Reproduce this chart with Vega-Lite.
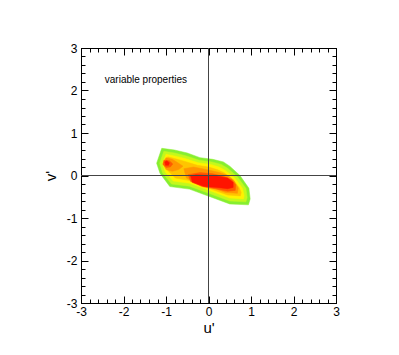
{
  "$schema": "https://vega.github.io/schema/vega-lite/v6.json",
  "width": 255,
  "height": 255,
  "autosize": {"type": "none"},
  "padding": {"left": 81, "top": 48, "right": 63, "bottom": 52},
  "background": "white",
  "config": {
    "view": {"stroke": "black", "strokeWidth": 1},
    "font": "Liberation Sans",
    "axis": {
      "grid": false,
      "domainColor": "black",
      "tickColor": "black",
      "labelColor": "black",
      "labelFont": "Liberation Sans",
      "labelFontSize": 12,
      "titleFont": "Liberation Sans",
      "titleFontSize": 15,
      "titleFontWeight": "normal",
      "titleColor": "black"
    }
  },
  "datasets": {
    "c": [
      {"l":1,"p":"1a","o":1,"u":-1.10,"v":0.64},{"l":1,"p":"1a","o":2,"u":-1.22,"v":0.29},{"l":1,"p":"1a","o":3,"u":-1.14,"v":0.05},{"l":1,"p":"1a","o":4,"u":-0.91,"v":-0.26},{"l":1,"p":"1a","o":5,"u":-0.45,"v":-0.32},{"l":1,"p":"1a","o":6,"u":0.04,"v":-0.5},{"l":1,"p":"1a","o":7,"u":0.5,"v":-0.67},{"l":1,"p":"1a","o":8,"u":0.94,"v":-0.69},{"l":1,"p":"1a","o":9,"u":0.98,"v":-0.55},{"l":1,"p":"1a","o":10,"u":0.95,"v":-0.3},{"l":1,"p":"1a","o":11,"u":0.74,"v":0.0},{"l":1,"p":"1a","o":12,"u":0.5,"v":0.22},{"l":1,"p":"1a","o":13,"u":0.35,"v":0.32},{"l":1,"p":"1a","o":14,"u":0.1,"v":0.38},{"l":1,"p":"1a","o":15,"u":-0.2,"v":0.42},{"l":1,"p":"1a","o":16,"u":-0.5,"v":0.53},{"l":1,"p":"1a","o":17,"u":-0.8,"v":0.6},
      {"l":2,"p":"2a","o":1,"u":-1.05,"v":0.57},{"l":2,"p":"2a","o":2,"u":-1.15,"v":0.29},{"l":2,"p":"2a","o":3,"u":-1.08,"v":0.06},{"l":2,"p":"2a","o":4,"u":-0.87,"v":-0.2},{"l":2,"p":"2a","o":5,"u":-0.45,"v":-0.25},{"l":2,"p":"2a","o":6,"u":0.04,"v":-0.43},{"l":2,"p":"2a","o":7,"u":0.5,"v":-0.6},{"l":2,"p":"2a","o":8,"u":0.88,"v":-0.62},{"l":2,"p":"2a","o":9,"u":0.91,"v":-0.52},{"l":2,"p":"2a","o":10,"u":0.88,"v":-0.3},{"l":2,"p":"2a","o":11,"u":0.68,"v":-0.03},{"l":2,"p":"2a","o":12,"u":0.45,"v":0.17},{"l":2,"p":"2a","o":13,"u":0.3,"v":0.26},{"l":2,"p":"2a","o":14,"u":0.08,"v":0.32},{"l":2,"p":"2a","o":15,"u":-0.22,"v":0.36},{"l":2,"p":"2a","o":16,"u":-0.52,"v":0.46},{"l":2,"p":"2a","o":17,"u":-0.8,"v":0.53},
      {"l":3,"p":"3a","o":1,"u":-1.0,"v":0.5},{"l":3,"p":"3a","o":2,"u":-1.08,"v":0.29},{"l":3,"p":"3a","o":3,"u":-1.02,"v":0.08},{"l":3,"p":"3a","o":4,"u":-0.83,"v":-0.13},{"l":3,"p":"3a","o":5,"u":-0.45,"v":-0.18},{"l":3,"p":"3a","o":6,"u":0.04,"v":-0.36},{"l":3,"p":"3a","o":7,"u":0.5,"v":-0.53},{"l":3,"p":"3a","o":8,"u":0.82,"v":-0.55},{"l":3,"p":"3a","o":9,"u":0.84,"v":-0.48},{"l":3,"p":"3a","o":10,"u":0.8,"v":-0.3},{"l":3,"p":"3a","o":11,"u":0.62,"v":-0.06},{"l":3,"p":"3a","o":12,"u":0.4,"v":0.12},{"l":3,"p":"3a","o":13,"u":0.25,"v":0.2},{"l":3,"p":"3a","o":14,"u":0.05,"v":0.26},{"l":3,"p":"3a","o":15,"u":-0.24,"v":0.3},{"l":3,"p":"3a","o":16,"u":-0.55,"v":0.4},{"l":3,"p":"3a","o":17,"u":-0.8,"v":0.46},
      {"l":4,"p":"4a","o":1,"u":-0.96,"v":0.44},{"l":4,"p":"4a","o":2,"u":-1.02,"v":0.28},{"l":4,"p":"4a","o":3,"u":-0.96,"v":0.12},{"l":4,"p":"4a","o":4,"u":-0.78,"v":-0.06},{"l":4,"p":"4a","o":5,"u":-0.45,"v":-0.12},{"l":4,"p":"4a","o":6,"u":0.0,"v":-0.3},{"l":4,"p":"4a","o":7,"u":0.45,"v":-0.46},{"l":4,"p":"4a","o":8,"u":0.75,"v":-0.48},{"l":4,"p":"4a","o":9,"u":0.77,"v":-0.4},{"l":4,"p":"4a","o":10,"u":0.72,"v":-0.28},{"l":4,"p":"4a","o":11,"u":0.56,"v":-0.08},{"l":4,"p":"4a","o":12,"u":0.36,"v":0.07},{"l":4,"p":"4a","o":13,"u":0.2,"v":0.14},{"l":4,"p":"4a","o":14,"u":0.0,"v":0.2},{"l":4,"p":"4a","o":15,"u":-0.26,"v":0.24},{"l":4,"p":"4a","o":16,"u":-0.55,"v":0.33},{"l":4,"p":"4a","o":17,"u":-0.8,"v":0.4},
      {"l":5,"p":"5a","o":1,"u":-1.0,"v":0.42},{"l":5,"p":"5a","o":2,"u":-1.07,"v":0.28},{"l":5,"p":"5a","o":3,"u":-1.0,"v":0.14},{"l":5,"p":"5a","o":4,"u":-0.85,"v":0.1},{"l":5,"p":"5a","o":5,"u":-0.7,"v":0.14},{"l":5,"p":"5a","o":6,"u":-0.6,"v":0.22},{"l":5,"p":"5a","o":7,"u":-0.72,"v":0.3},{"l":5,"p":"5a","o":8,"u":-0.85,"v":0.38},
      {"l":5,"p":"5b","o":1,"u":-0.58,"v":0.16},{"l":5,"p":"5b","o":2,"u":-0.52,"v":-0.06},{"l":5,"p":"5b","o":3,"u":-0.35,"v":-0.15},{"l":5,"p":"5b","o":4,"u":0.0,"v":-0.25},{"l":5,"p":"5b","o":5,"u":0.4,"v":-0.4},{"l":5,"p":"5b","o":6,"u":0.68,"v":-0.42},{"l":5,"p":"5b","o":7,"u":0.7,"v":-0.3},{"l":5,"p":"5b","o":8,"u":0.6,"v":-0.12},{"l":5,"p":"5b","o":9,"u":0.45,"v":0.0},{"l":5,"p":"5b","o":10,"u":0.25,"v":0.07},{"l":5,"p":"5b","o":11,"u":0.05,"v":0.12},{"l":5,"p":"5b","o":12,"u":-0.15,"v":0.16},{"l":5,"p":"5b","o":13,"u":-0.35,"v":0.2},
      {"l":6,"p":"6a","o":1,"u":-1.05,"v":0.36},{"l":6,"p":"6a","o":2,"u":-1.07,"v":0.26},{"l":6,"p":"6a","o":3,"u":-1.0,"v":0.19},{"l":6,"p":"6a","o":4,"u":-0.9,"v":0.2},{"l":6,"p":"6a","o":5,"u":-0.84,"v":0.27},{"l":6,"p":"6a","o":6,"u":-0.92,"v":0.35},
      {"l":6,"p":"6b","o":1,"u":-0.48,"v":0.02},{"l":6,"p":"6b","o":2,"u":-0.42,"v":-0.14},{"l":6,"p":"6b","o":3,"u":-0.15,"v":-0.26},{"l":6,"p":"6b","o":4,"u":0.2,"v":-0.32},{"l":6,"p":"6b","o":5,"u":0.45,"v":-0.37},{"l":6,"p":"6b","o":6,"u":0.63,"v":-0.35},{"l":6,"p":"6b","o":7,"u":0.64,"v":-0.22},{"l":6,"p":"6b","o":8,"u":0.55,"v":-0.1},{"l":6,"p":"6b","o":9,"u":0.35,"v":-0.02},{"l":6,"p":"6b","o":10,"u":0.1,"v":0.04},{"l":6,"p":"6b","o":11,"u":-0.2,"v":0.07},
      {"l":7,"p":"7a","o":1,"u":-1.03,"v":0.32},{"l":7,"p":"7a","o":2,"u":-1.01,"v":0.24},{"l":7,"p":"7a","o":3,"u":-0.94,"v":0.24},{"l":7,"p":"7a","o":4,"u":-0.92,"v":0.3},{"l":7,"p":"7a","o":5,"u":-0.98,"v":0.35},
      {"l":7,"p":"7b","o":1,"u":-0.42,"v":-0.01},{"l":7,"p":"7b","o":2,"u":-0.38,"v":-0.16},{"l":7,"p":"7b","o":3,"u":-0.1,"v":-0.26},{"l":7,"p":"7b","o":4,"u":0.2,"v":-0.28},{"l":7,"p":"7b","o":5,"u":0.45,"v":-0.31},{"l":7,"p":"7b","o":6,"u":0.58,"v":-0.28},{"l":7,"p":"7b","o":7,"u":0.58,"v":-0.16},{"l":7,"p":"7b","o":8,"u":0.45,"v":-0.06},{"l":7,"p":"7b","o":9,"u":0.2,"v":-0.01},{"l":7,"p":"7b","o":10,"u":-0.1,"v":0.01},{"l":7,"p":"7b","o":11,"u":-0.3,"v":0.02}
    ]
  },
  "resolve": {"axis": {"x": "independent", "y": "independent"}},
  "layer": [
    {
      "data": {"name": "c"},
      "transform": [{"filter": "datum.l == 1"}],
      "mark": {"type": "line", "interpolate": "linear-closed", "fill": "#86EE30", "stroke": "#86EE30", "strokeWidth": 0.5},
      "encoding": {
        "x": {"field": "u", "type": "quantitative", "scale": {"domain": [-3, 3], "nice": false, "zero": false},
          "axis": {"orient": "bottom", "title": "u'", "values": [-3,-2.8,-2.6,-2.4,-2.2,-2,-1.8,-1.6,-1.4,-1.2,-1,-0.8,-0.6,-0.4,-0.2,0,0.2,0.4,0.6,0.8,1,1.2,1.4,1.6,1.8,2,2.2,2.4,2.6,2.8,3],
            "labelExpr": "abs(datum.value-round(datum.value))<0.01 ? ''+round(datum.value) : ''",
            "tickSize": {"condition": {"test": "abs(datum.value-round(datum.value))<0.01", "value": -7}, "value": -4},
            "labelPadding": 10, "titlePadding": 0, "labelFlush": false, "labelOverlap": false}},
        "y": {"field": "v", "type": "quantitative", "scale": {"domain": [-3, 3], "nice": false, "zero": false},
          "axis": {"orient": "left", "title": "v'", "values": [-3,-2.8,-2.6,-2.4,-2.2,-2,-1.8,-1.6,-1.4,-1.2,-1,-0.8,-0.6,-0.4,-0.2,0,0.2,0.4,0.6,0.8,1,1.2,1.4,1.6,1.8,2,2.2,2.4,2.6,2.8,3],
            "labelExpr": "abs(datum.value-round(datum.value))<0.01 ? ''+round(datum.value) : ''",
            "tickSize": {"condition": {"test": "abs(datum.value-round(datum.value))<0.01", "value": -7}, "value": -4},
            "labelPadding": 11, "titlePadding": 8, "labelFlush": false, "labelOverlap": false}},
        "detail": {"field": "p"},
        "order": {"field": "o", "type": "quantitative"}
      }
    },
    {
      "data": {"name": "c"},
      "transform": [{"filter": "datum.l == 2"}],
      "mark": {"type": "line", "interpolate": "linear-closed", "fill": "#C4F81C", "stroke": "#C4F81C", "strokeWidth": 0.5},
      "encoding": {
        "x": {"field": "u", "type": "quantitative", "axis": null},
        "y": {"field": "v", "type": "quantitative", "axis": null},
        "detail": {"field": "p"},
        "order": {"field": "o", "type": "quantitative"}
      }
    },
    {
      "data": {"name": "c"},
      "transform": [{"filter": "datum.l == 3"}],
      "mark": {"type": "line", "interpolate": "linear-closed", "fill": "#FFF200", "stroke": "#FFF200", "strokeWidth": 0.5},
      "encoding": {
        "x": {"field": "u", "type": "quantitative", "axis": null},
        "y": {"field": "v", "type": "quantitative", "axis": null},
        "detail": {"field": "p"},
        "order": {"field": "o", "type": "quantitative"}
      }
    },
    {
      "data": {"name": "c"},
      "transform": [{"filter": "datum.l == 4"}],
      "mark": {"type": "line", "interpolate": "linear-closed", "fill": "#FFC400", "stroke": "#FFC400", "strokeWidth": 0.5},
      "encoding": {
        "x": {"field": "u", "type": "quantitative", "axis": null},
        "y": {"field": "v", "type": "quantitative", "axis": null},
        "detail": {"field": "p"},
        "order": {"field": "o", "type": "quantitative"}
      }
    },
    {
      "data": {"name": "c"},
      "transform": [{"filter": "datum.l == 5"}],
      "mark": {"type": "line", "interpolate": "linear-closed", "fill": "#FF9600", "stroke": "#FF9600", "strokeWidth": 0.5},
      "encoding": {
        "x": {"field": "u", "type": "quantitative", "axis": null},
        "y": {"field": "v", "type": "quantitative", "axis": null},
        "detail": {"field": "p"},
        "order": {"field": "o", "type": "quantitative"}
      }
    },
    {
      "data": {"name": "c"},
      "transform": [{"filter": "datum.l == 6"}],
      "mark": {"type": "line", "interpolate": "linear-closed", "fill": "#FF5A00", "stroke": "#FF5A00", "strokeWidth": 0.5},
      "encoding": {
        "x": {"field": "u", "type": "quantitative", "axis": null},
        "y": {"field": "v", "type": "quantitative", "axis": null},
        "detail": {"field": "p"},
        "order": {"field": "o", "type": "quantitative"}
      }
    },
    {
      "data": {"name": "c"},
      "transform": [{"filter": "datum.l == 7"}],
      "mark": {"type": "line", "interpolate": "linear-closed", "fill": "#FF1400", "stroke": "#FF1400", "strokeWidth": 0.5},
      "encoding": {
        "x": {"field": "u", "type": "quantitative", "axis": null},
        "y": {"field": "v", "type": "quantitative", "axis": null},
        "detail": {"field": "p"},
        "order": {"field": "o", "type": "quantitative"}
      }
    },
    {
      "data": {"values": [{"z": 0}]},
      "mark": {"type": "rule", "color": "#444444", "strokeWidth": 1},
      "encoding": {"x": {"field": "z", "type": "quantitative", "axis": null}}
    },
    {
      "data": {"values": [{"z": 0}]},
      "mark": {"type": "rule", "color": "#444444", "strokeWidth": 1},
      "encoding": {"y": {"field": "z", "type": "quantitative", "axis": null}}
    },
    {
      "data": {"values": [{"u": -2.44, "v": 2.25, "t": "variable properties"}]},
      "mark": {"type": "text", "align": "left", "baseline": "middle", "fontSize": 10, "font": "Liberation Sans", "color": "black"},
      "encoding": {
        "x": {"field": "u", "type": "quantitative",
          "axis": {"orient": "top", "title": null, "labels": false, "values": [-3,-2.8,-2.6,-2.4,-2.2,-2,-1.8,-1.6,-1.4,-1.2,-1,-0.8,-0.6,-0.4,-0.2,0,0.2,0.4,0.6,0.8,1,1.2,1.4,1.6,1.8,2,2.2,2.4,2.6,2.8,3],
            "tickSize": {"condition": {"test": "abs(datum.value-round(datum.value))<0.01", "value": -7}, "value": -4}}},
        "y": {"field": "v", "type": "quantitative",
          "axis": {"orient": "right", "title": null, "labels": false, "values": [-3,-2.8,-2.6,-2.4,-2.2,-2,-1.8,-1.6,-1.4,-1.2,-1,-0.8,-0.6,-0.4,-0.2,0,0.2,0.4,0.6,0.8,1,1.2,1.4,1.6,1.8,2,2.2,2.4,2.6,2.8,3],
            "tickSize": {"condition": {"test": "abs(datum.value-round(datum.value))<0.01", "value": -7}, "value": -4}}},
        "text": {"field": "t"}
      }
    }
  ]
}
